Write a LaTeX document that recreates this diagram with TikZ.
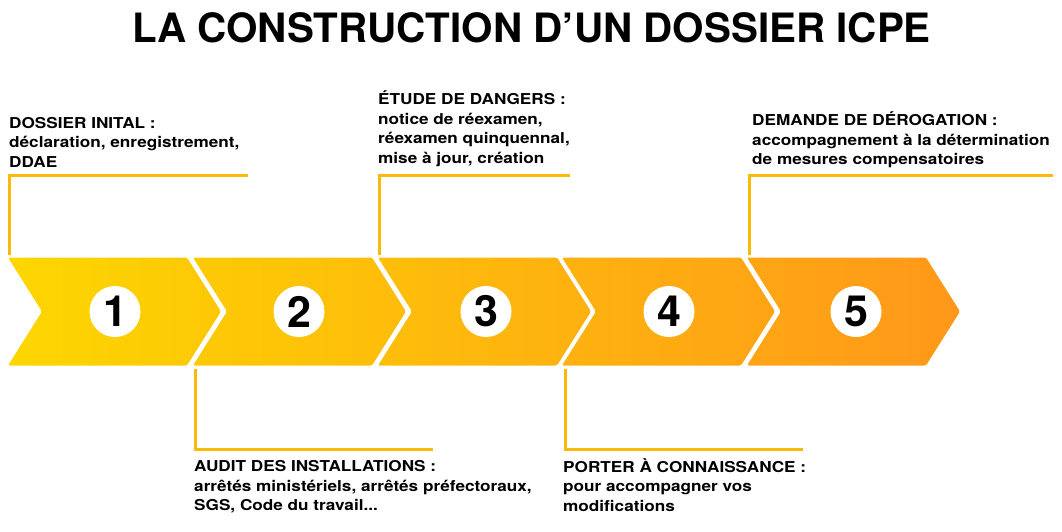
\documentclass[tikz,border=0pt]{standalone}
\usepackage{fontspec}
\setmainfont{TeX Gyre Heros}
\newfontfamily\labfont{TeX Gyre Heros}[FakeStretch=1.145]
\definecolor{cyel}{RGB}{253,214,0}
\definecolor{corg}{RGB}{255,152,26}
\definecolor{clead}{RGB}{252,186,8}
\begin{document}
\begin{tikzpicture}[x=1pt,y=-1pt,
  lead/.style={draw=clead, line width=3pt},
  lab/.style={anchor=north west, inner sep=0pt, align=left, font=\labfont\bfseries\fontsize{15}{19.5}\selectfont},
  num/.style={circle, fill=white, minimum size=51pt, inner sep=0pt, font=\bfseries\fontsize{43}{43}\selectfont}]
\useasboundingbox (0,0) rectangle (1062,532);

% title
\node[anchor=base, inner sep=0pt, font=\bfseries\fontsize{40.4}{40.4}\selectfont] (title) at (531.5,42.5) {LA CONSTRUCTION D’UN DOSSIER ICPE};

% chevrons
\shade[left color=cyel, right color=corg, rounded corners=1.5pt]
  (8,257.5) -- ++(179,0) -- ++(34,54) -- ++(-34,54) -- ++(-179,0) -- ++(34,-54) -- cycle
  (193,257.5) -- ++(179,0) -- ++(34,54) -- ++(-34,54) -- ++(-179,0) -- ++(34,-54) -- cycle
  (378,257.5) -- ++(179,0) -- ++(34,54) -- ++(-34,54) -- ++(-179,0) -- ++(34,-54) -- cycle
  (562,257.5) -- ++(179,0) -- ++(34,54) -- ++(-34,54) -- ++(-179,0) -- ++(34,-54) -- cycle
  (747,257.5) -- ++(179,0) -- ++(34,54) -- ++(-34,54) -- ++(-179,0) -- ++(34,-54) -- cycle;

% numbers
\node[num] (n1) at (115,311.5) {1};
\node[num] (n2) at (299,311.5) {2};
\node[num] (n3) at (486,311.5) {3};
\node[num] (n4) at (669,311.5) {4};
\node[num] (n5) at (856,311.5) {5};

% labels
\node[lab] (l1) at (9,113) {\rule{0pt}{15pt}DOSSIER INITAL :\\déclaration, enregistrement,\\DDAE};
\node[lab] (l3) at (378,89.5) {\rule{0pt}{15pt}ÉTUDE DE DANGERS :\\notice de réexamen,\\réexamen quinquennal,\\mise à jour, création};
\node[lab] (l5) at (752,110.5) {\rule{0pt}{15pt}DEMANDE DE DÉROGATION :\\accompagnement à la détermination\\de mesures compensatoires};
\node[lab] (l2) at (194,456.5) {\rule{0pt}{15pt}AUDIT DES INSTALLATIONS :\\arrêtés ministériels, arrêtés préfectoraux,\\SGS, Code du travail...};
\node[lab] (l4) at (563,457) {\rule{0pt}{15pt}PORTER À CONNAISSANCE :\\pour accompagner vos\\modifications};

% leader lines
\coordinate (a1) at (9.5,254.5);   \coordinate (b1) at (248,175.5);
\coordinate (a3) at (379.5,254.5); \coordinate (b3) at (570,175.5);
\coordinate (a5) at (749.5,254.5); \coordinate (b5) at (1053,175.5);
\coordinate (a2) at (195,368.5);   \coordinate (b2) at (433,449);
\coordinate (a4) at (565,368.5);   \coordinate (b4) at (803,449);
\draw[lead] (b1) -| (a1);
\draw[lead] (b3) -| (a3);
\draw[lead] (b5) -| (a5);
\draw[lead] (a2) |- (b2);
\draw[lead] (a4) |- (b4);
\end{tikzpicture}
\end{document}
